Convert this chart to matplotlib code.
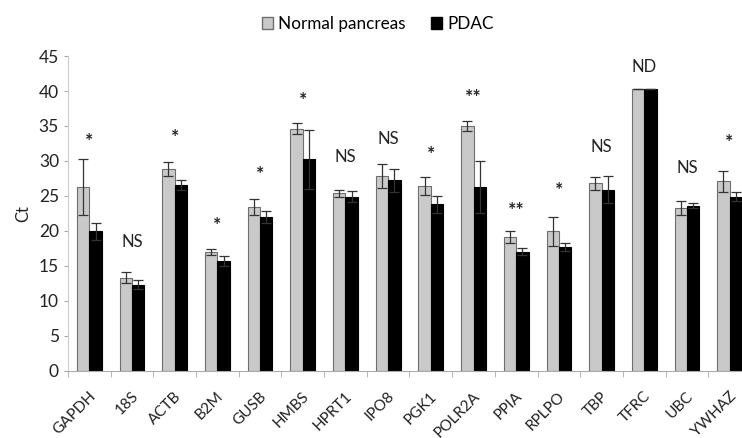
import numpy as np
import matplotlib
matplotlib.use('Agg')
import matplotlib.pyplot as plt
import matplotlib.transforms as mtransforms
from matplotlib.patches import Patch

## data
genes = ['GAPDH', '18S', 'ACTB', 'B2M', 'GUSB', 'HMBS', 'HPRT1', 'IPO8',
         'PGK1', 'POLR2A', 'PPIA', 'RPLPO', 'TBP', 'TFRC', 'UBC', 'YWHAZ']
normal = [26.3, 13.3, 28.8, 17.0, 23.4, 34.6, 25.4, 27.8,
          26.4, 35.0, 19.1, 19.9, 26.8, 40.3, 23.3, 27.1]
normalErr = [4.0, 0.8, 1.0, 0.4, 1.1, 0.8, 0.5, 1.7,
             1.3, 0.7, 0.9, 2.1, 0.9, 0.0, 1.0, 1.5]
pdac = [19.9, 12.3, 26.5, 15.7, 22.0, 30.2, 24.9, 27.2,
        23.8, 26.3, 17.0, 17.7, 25.9, 40.3, 23.6, 24.9]
pdacErr = [1.2, 0.7, 0.7, 0.7, 0.9, 4.2, 0.8, 1.6,
           1.2, 3.7, 0.5, 0.6, 1.9, 0.0, 0.4, 0.6]
marks = ['*', 'NS', '*', '*', '*', '*', 'NS', 'NS',
         '*', '**', '**', '*', 'NS', 'ND', 'NS', '*']
markY = [32.8, 18.4, 33.3, 20.8, 28.0, 38.7, 30.6, 33.2,
         30.9, 39.1, 22.9, 25.8, 32.0, 43.5, 29.0, 32.6]

FONT = 'Lato'
plt.rcParams['font.family'] = [FONT, 'DejaVu Sans']
TXT = '#222222'

fig = plt.figure(figsize=(7.42, 4.38), dpi=100)
ax = fig.add_axes([0.0916, 0.154, 0.9205, 0.718])

x = np.arange(len(genes))
w = 0.29
ekw = dict(elinewidth=0.9, capsize=3.5, capthick=0.9)
ax.bar(x - w / 2, normal, w, color='#c9c9c9', edgecolor='#6e6e6e', linewidth=0.8,
       yerr=normalErr, ecolor='#333333', error_kw=ekw)
ax.bar(x + w / 2, pdac, w, color='black', edgecolor='black', linewidth=0.8,
       yerr=pdacErr, ecolor='#333333', error_kw=ekw)

for i in range(len(genes)):
    if '*' in marks[i]:
        ax.text(x[i], markY[i], marks[i], ha='center', va='center', fontsize=14,
                fontweight='bold', color=TXT)
    else:
        ax.text(x[i], markY[i], marks[i], ha='center', va='center', fontsize=12,
                color=TXT)

ax.set_xlim(-0.5, len(genes) - 0.5)
ax.set_ylim(0, 45)
ax.set_yticks(range(0, 46, 5))
ax.tick_params(axis='y', labelsize=12.5, length=3, color='#aaaaaa', labelcolor=TXT)

ax.set_xticks(x)
ax.set_xticklabels(genes, rotation=45, ha='right', va='center', rotation_mode='anchor',
                   fontsize=11, color=TXT)
ax.tick_params(axis='x', which='major', length=0, pad=17)
shift = mtransforms.ScaledTranslation(4 / 100, 0, fig.dpi_scale_trans)
for lab in ax.get_xticklabels():
    lab.set_transform(lab.get_transform() + shift)
ax.set_xticks(np.arange(-0.5, len(genes), 1), minor=True)
ax.tick_params(axis='x', which='minor', length=4, color='#aaaaaa')

for s in ['top', 'right']:
    ax.spines[s].set_visible(False)
ax.spines['left'].set_color('#cccccc')
ax.spines['bottom'].set_color('#aaaaaa')

ax.set_ylabel('Ct', fontsize=12, color=TXT, labelpad=5)

handles = [Patch(facecolor='#c9c9c9', edgecolor='#6e6e6e', label='Normal pancreas'),
           Patch(facecolor='black', edgecolor='black', label='PDAC')]
fig.legend(handles=handles, loc='center', bbox_to_anchor=(0.509, 0.945), ncol=2,
           frameon=False, fontsize=12.3, handlelength=0.65, handleheight=0.65,
           handletextpad=0.3, columnspacing=1.5)

fig.savefig('out.png', dpi=100)
